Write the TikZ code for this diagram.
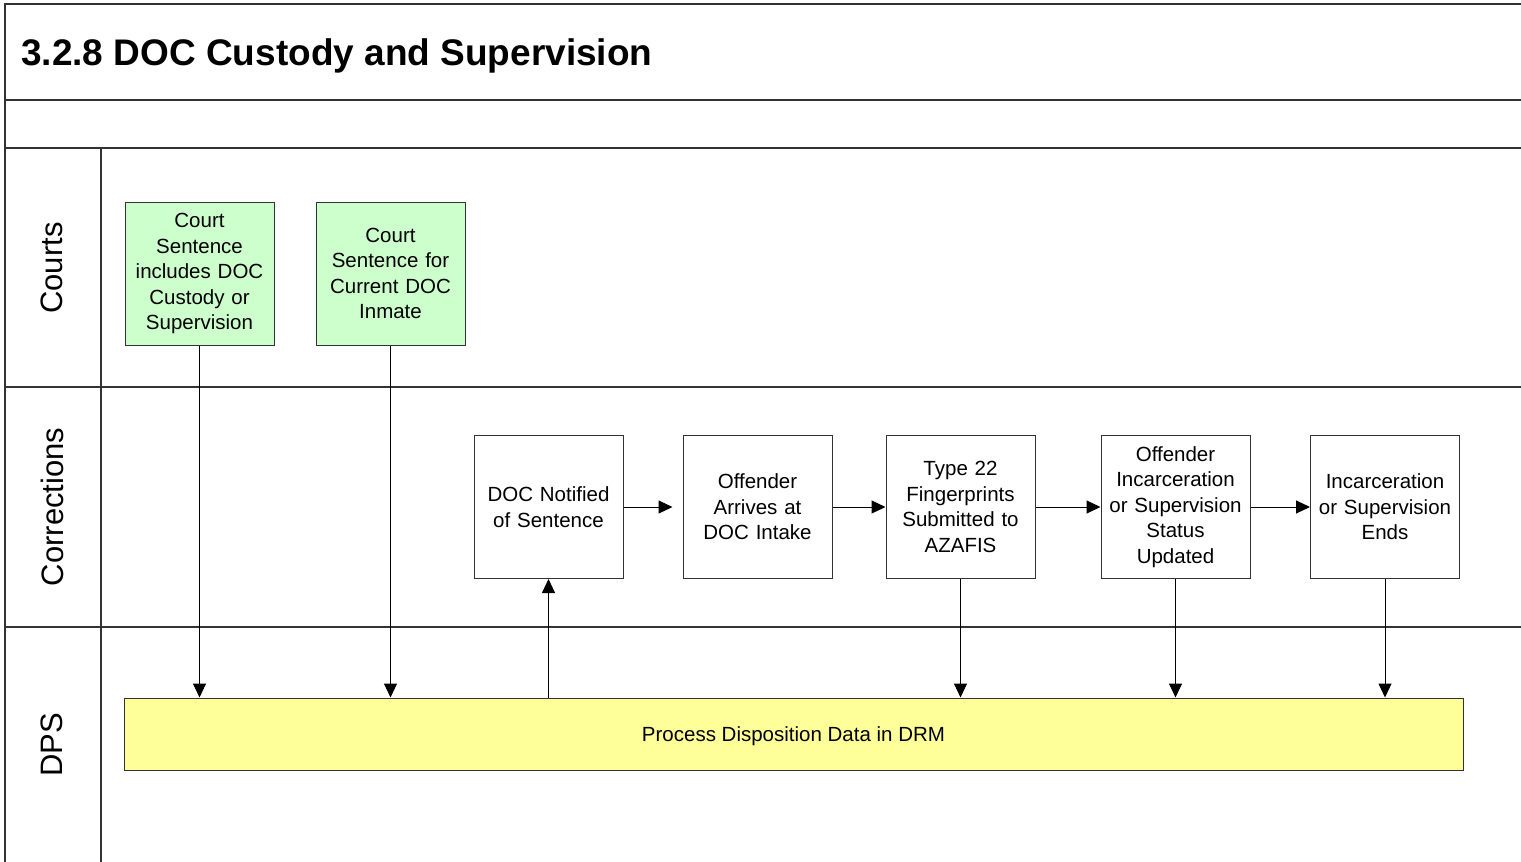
\documentclass[tikz,border=0pt]{standalone}
\usepackage{fontspec}
\setmainfont{Liberation Sans}
\usetikzlibrary{arrows.meta}
\definecolor{greenfill}{HTML}{CCFFCC}
\definecolor{yellowfill}{HTML}{FFFF99}
\definecolor{linegray}{HTML}{333333}
\tikzset{
  lane/.style={draw=linegray, line width=1.2pt},
  procbox/.style={draw=linegray, line width=1pt, minimum width=149pt, minimum height=143pt,
    inner sep=0pt, text width=145pt, align=center, font=\fontsize{20.5}{25.5}\selectfont},
  courtbox/.style={procbox, fill=greenfill},
  lanelabel/.style={rotate=90, font=\fontsize{31}{36}\selectfont, inner sep=0pt},
  flow/.style={draw=black, line width=1pt, -{Triangle[length=14pt,width=13pt]}}
}
\begin{document}
\begin{tikzpicture}[x=1pt,y=-1pt]
\useasboundingbox (0,0) rectangle (1521,862);
% frame
\draw[lane] (1521,4) -- (5,4) -- (5,862);
\draw[lane] (5,100) -- (1521,100);
\draw[lane] (5,148) -- (1521,148);
\draw[lane] (5,387) -- (1521,387);
\draw[lane] (5,627) -- (1521,627);
\draw[lane] (101,148) -- (101,862);
% title
\node[anchor=base west, inner sep=0pt, font=\fontsize{37}{43}\selectfont\bfseries] (title) at (21,65) {3.2.8 DOC Custody and Supervision};
% lane labels
\node[lanelabel] (lcourts) at (52,268) {Courts};
\node[lanelabel] (lcorr) at (52,507) {Corrections};
\node[lanelabel] (ldps) at (52,745) {DPS};
% boxes
\node[courtbox] (c1) at (199.5,273.5) {Court\\Sentence\\includes DOC\\Custody or\\Supervision};
\node[courtbox] (c2) at (390.5,273.5) {Court\\Sentence for\\Current DOC\\Inmate};
\node[procbox] (n1) at (548.5,507) {DOC Notified\\of Sentence};
\node[procbox] (n2) at (757.5,507) {Offender\\Arrives at\\DOC Intake};
\node[procbox] (n3) at (960.5,507) {Type 22\\Fingerprints\\Submitted to\\AZAFIS};
\node[procbox] (n4) at (1175.5,507) {Offender\\Incarceration\\or Supervision\\Status\\Updated};
\node[procbox] (n5) at (1385,507) {Incarceration\\or Supervision\\Ends};
\node[draw=linegray, line width=1pt, fill=yellowfill, minimum width=1339pt, minimum height=72pt, inner sep=0pt,
  text depth=0pt, font=\fontsize{20.5}{25.5}\selectfont] (dps) at (793.5,734) {Process Disposition Data in DRM};
% connectors
\draw[flow] (c1.south) -- (c1.south |- dps.north);
\draw[flow] (c2.south) -- (c2.south |- dps.north);
\draw[flow] (n1.south |- dps.north) -- (n1.south);
\draw[flow] (n3.south) -- (n3.south |- dps.north);
\draw[flow] (n4.south) -- (n4.south |- dps.north);
\draw[flow] (n5.south) -- (n5.south |- dps.north);
\draw[flow, shorten >=10pt] (n1.east) -- (n2.west);
\draw[flow] (n2.east) -- (n3.west);
\draw[flow] (n3.east) -- (n4.west);
\draw[flow] (n4.east) -- (n5.west);
\end{tikzpicture}
\end{document}
